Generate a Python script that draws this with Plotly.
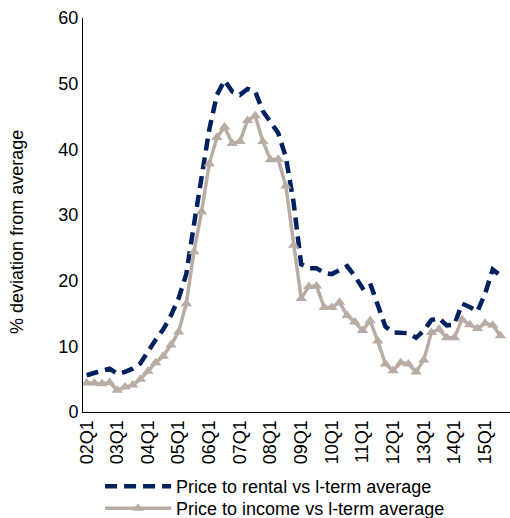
import plotly.graph_objects as go

# Quarterly labels 02Q1 .. 15Q3
quarters = [f"{y:02d}Q{q}" for y in range(2, 16) for q in range(1, 5)][:55]
year_ticks = [f"{y:02d}Q1" for y in range(2, 16)]

# % deviation from long-term average
price_to_rental = [
    5.6, 6.0, 6.3, 6.6, 5.8, 6.1, 6.6, 7.4, 9.3, 11.0,
    12.6, 14.7, 17.3, 21.0, 28.5, 35.5, 43.0, 48.3, 50.5, 48.8,
    48.3, 49.2, 48.8, 45.8, 44.0, 42.5, 38.8, 32.0, 22.5, 21.9,
    21.9, 21.2, 21.0, 21.6, 22.2, 20.7, 18.9, 19.6, 16.5, 13.0,
    12.1, 12.1, 12.0, 11.3, 12.4, 14.0, 14.3, 13.2, 13.3, 16.5,
    16.0, 15.3, 18.0, 21.7, 20.8,
]
price_to_income = [
    4.4, 4.4, 4.3, 4.5, 3.3, 3.8, 4.1, 5.0, 6.2, 7.5,
    8.5, 10.2, 12.2, 16.5, 24.4, 30.5, 37.8, 41.8, 43.4, 40.9,
    41.2, 44.4, 45.1, 41.2, 38.4, 38.5, 34.4, 25.4, 17.3, 19.1,
    19.2, 15.9, 15.9, 16.7, 14.7, 13.7, 12.4, 13.9, 10.8, 7.3,
    6.3, 7.5, 7.3, 6.1, 7.9, 12.1, 12.6, 11.3, 11.3, 14.1,
    13.3, 12.7, 13.5, 13.2, 11.6,
]

NAVY = "#002060"
TAUPE = "#B8ACA4"
FONT = "Liberation Sans, Arial, sans-serif"

fig = go.Figure()
fig.add_trace(go.Scatter(
    x=quarters, y=price_to_rental, mode="lines",
    name="Price to rental vs l-term average",
    line=dict(color=NAVY, width=4.5, dash="12px,7px"),
    legend="legend",
))
fig.add_trace(go.Scatter(
    x=quarters, y=price_to_income, mode="lines+markers",
    name="Price to income vs l-term average",
    line=dict(color=TAUPE, width=3.5),
    marker=dict(symbol="triangle-up", size=10, color=TAUPE),
    legend="legend2",
))

legend_common = dict(
    xanchor="left", yanchor="top", orientation="v", itemwidth=66,
    font=dict(family=FONT, size=18, color="black"),
    bgcolor="rgba(0,0,0,0)",
)

fig.update_layout(
    width=510, height=518,
    margin=dict(l=83, r=0, t=18, b=106, autoexpand=False),
    paper_bgcolor="white", plot_bgcolor="white",
    font=dict(family=FONT, size=18, color="black"),
    showlegend=True,
    legend=dict(x=0.04, y=-0.142, **legend_common),
    legend2=dict(x=0.04, y=-0.198, **legend_common),
    annotations=[dict(
        text="% deviation from average", textangle=-90,
        xref="paper", yref="paper", x=-0.1546, y=0.457,
        xanchor="center", yanchor="middle", showarrow=False,
        font=dict(family=FONT, size=18, color="black"),
    )],
)
fig.update_xaxes(
    type="category", categoryorder="array", categoryarray=quarters,
    tickmode="array", tickvals=year_ticks, ticktext=year_ticks,
    tickangle=-90, range=[-0.48, 55.26],
    showline=True, linecolor="black", linewidth=1,
    showgrid=False, zeroline=False, ticks="",
    tickfont=dict(family=FONT, size=18),
)
fig.update_yaxes(
    range=[0, 60], dtick=10,
    showline=True, linecolor="black", linewidth=1,
    showgrid=False, zeroline=False, ticks="",
    tickfont=dict(family=FONT, size=18),
)

fig.write_html("out.html")
